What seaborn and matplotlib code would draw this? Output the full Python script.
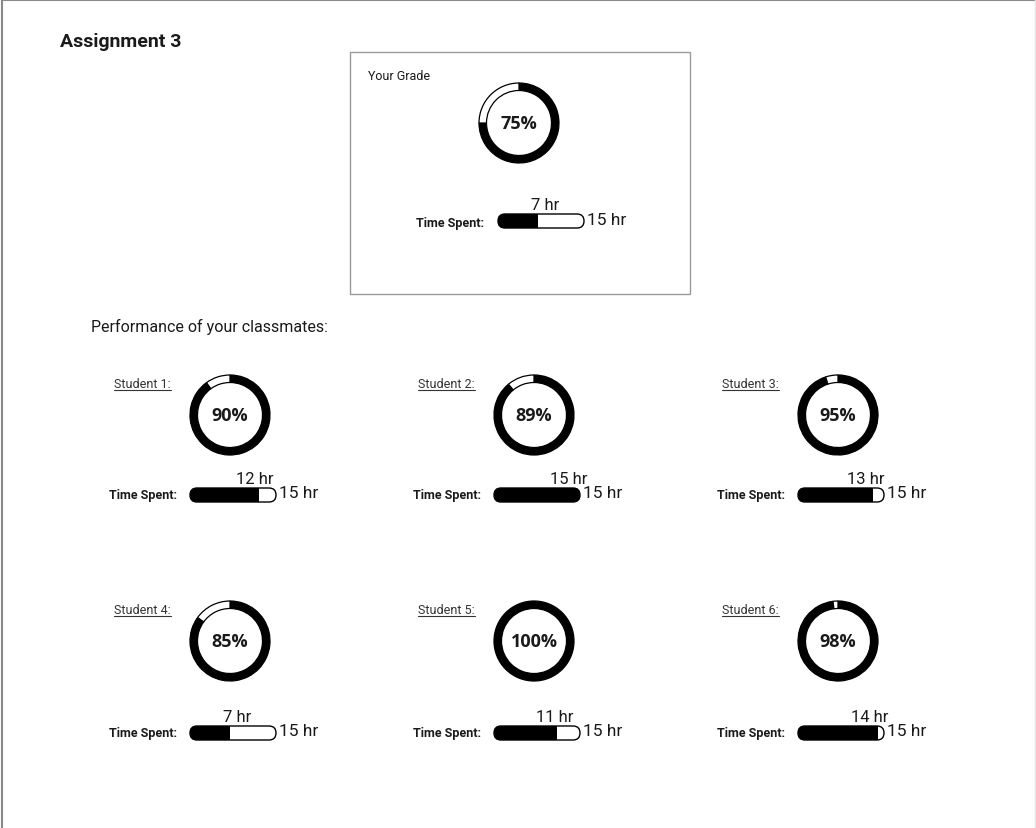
import matplotlib
matplotlib.use("Agg")
import matplotlib.pyplot as plt
from matplotlib.patches import FancyBboxPatch, Rectangle
import seaborn as sns
import pandas as pd

# ---- data ----
assignment_title = "Assignment 3"
my_grade = 75
my_hours = 7
max_hours = 15

students = ["Student 1:", "Student 2:", "Student 3:", "Student 4:", "Student 5:", "Student 6:"]
student_grades = [90, 89, 95, 85, 100, 98]
student_hours = [12, 15, 13, 7, 11, 14]

# ---- styling ----
sns.set_theme(style="white")
plt.rcParams["font.family"] = ["Roboto", "DejaVu Sans"]
TXT = "#1a1a1a"
PCT_FONT = ["Open Sans", "DejaVu Sans"]

W, H = 1036, 829
DY = 2  # vertical nudge of the page content
fig = plt.figure(figsize=(W / 100, H / 100), dpi=100)
fig.patch.set_facecolor("white")

# full-page canvas axes in pixel units (y downward)
base = fig.add_axes([0, 0, 1, 1])
base.set_xlim(0, W)
base.set_ylim(H - DY, -DY)
base.axis("off")


def px_axes(x0, y0, w, h):
    """Axes occupying a pixel box (top-left origin)."""
    y0 = y0 + DY
    return fig.add_axes([x0 / W, 1 - (y0 + h) / H, w / W, h / H])


def donut(cx, cy, pct, r=40, ring=7.5):
    pad = 3
    ax = px_axes(cx - r - pad, cy - r - pad, 2 * (r + pad), 2 * (r + pad))
    ax.pie([pct, 100 - pct], colors=["black", "white"], startangle=90,
           counterclock=False, radius=1,
           wedgeprops=dict(width=ring / r, edgecolor="black", linewidth=0.9))
    lim = (r + pad) / r
    ax.set_xlim(-lim, lim)
    ax.set_ylim(-lim, lim)
    ax.set_aspect("equal")
    ax.axis("off")
    ax.text(0, 0, f"{pct}%", ha="center", va="center", fontsize=13,
            fontweight="bold", family=PCT_FONT, color=TXT)


def time_bar(x0, yc, hours, w=86, h=14):
    pad = 3
    s = max_hours / w  # hours per pixel
    ax = px_axes(x0 - pad, yc - h / 2 - pad, w + 2 * pad, h + 2 * pad)
    half = h / 2 * s
    shell = FancyBboxPatch((0, -half), max_hours, 2 * half,
                           boxstyle=f"round,pad=0,rounding_size={half}",
                           facecolor="white", edgecolor="none", zorder=1)
    ax.add_patch(shell)
    df = pd.DataFrame({"hours": [hours], "row": ["t"]})
    sns.barplot(data=df, x="hours", y="row", orient="h", color="black",
                width=3, ax=ax, saturation=1)
    for bar in ax.patches:
        if bar is not shell:
            bar.set_zorder(2)
            bar.set_edgecolor("none")
            bar.set_clip_path(shell)
    outline = FancyBboxPatch((0, -half), max_hours, 2 * half,
                             boxstyle=f"round,pad=0,rounding_size={half}",
                             facecolor="none", edgecolor="black", linewidth=1.0,
                             zorder=3)
    ax.add_patch(outline)
    ax.set_xlim(-pad * s, max_hours + pad * s)
    ax.set_ylim(-(h / 2 + pad) * s, (h / 2 + pad) * s)
    ax.set_aspect("equal")
    ax.axis("off")
    # labels on the page canvas
    label_x = x0 + 47 + (hours - 7) * 3.5
    base.text(label_x, yc - 16.5, f"{hours} hr", ha="center", va="center",
              fontsize=12, color=TXT)
    base.text(x0 + w + 3, yc - 2, f"{max_hours} hr", ha="left", va="center",
              fontsize=12.5, color=TXT)


# page frame
base.plot([1, W], [1 - DY, 1 - DY], color="#8a8a8a", lw=1.5, solid_capstyle="butt")
base.plot([1.5, 1.5], [-DY, H], color="#8a8a8a", lw=1.5, solid_capstyle="butt")
base.plot([W - 1, W - 1], [-DY, H], color="#e4e4e4", lw=1)

# title
base.text(60, 40, assignment_title, ha="left", va="center", fontsize=14,
          fontweight="bold", color=TXT)

# "Your Grade" card
base.add_patch(Rectangle((350, 51), 340, 242, facecolor="none",
                         edgecolor="#9a9a9a", linewidth=1))
base.text(368, 74, "Your Grade", ha="left", va="center", fontsize=9, color=TXT)
donut(519, 122, my_grade)
base.text(484, 221, "Time Spent:", ha="right", va="center", fontsize=9,
          fontweight="bold", color=TXT)
time_bar(498, 220, my_hours)

# classmates
base.text(91, 325, "Performance of your classmates:", ha="left", va="center",
          fontsize=11.5, color=TXT)

col_cx = [230, 534, 838]
row_cy = [414, 640]
row_bar_y = [494, 732]

name_texts = []
for i, (name, g, hrs) in enumerate(zip(students, student_grades, student_hours)):
    r, c = divmod(i, 3)
    cx, cy, by = col_cx[c], row_cy[r], row_bar_y[r]
    t = base.text(cx - 116, cy - 28, name, ha="left", va="baseline",
                  fontsize=9, color="#333333")
    name_texts.append((t, cx - 116, cy - 28))
    donut(cx, cy, g)
    base.text(cx - 53, by, "Time Spent:", ha="right", va="center", fontsize=9,
              fontweight="bold", color=TXT)
    time_bar(cx - 40, by, hrs)

# underline the student names
fig.canvas.draw()
renderer = fig.canvas.get_renderer()
for t, x0, yb in name_texts:
    bb = t.get_window_extent(renderer)
    width_px = bb.width * W / fig.bbox.width
    base.plot([x0, x0 + width_px], [yb + 2.5, yb + 2.5], color="#333333", lw=0.8)

fig.savefig("out.png", dpi=100, facecolor="white")
